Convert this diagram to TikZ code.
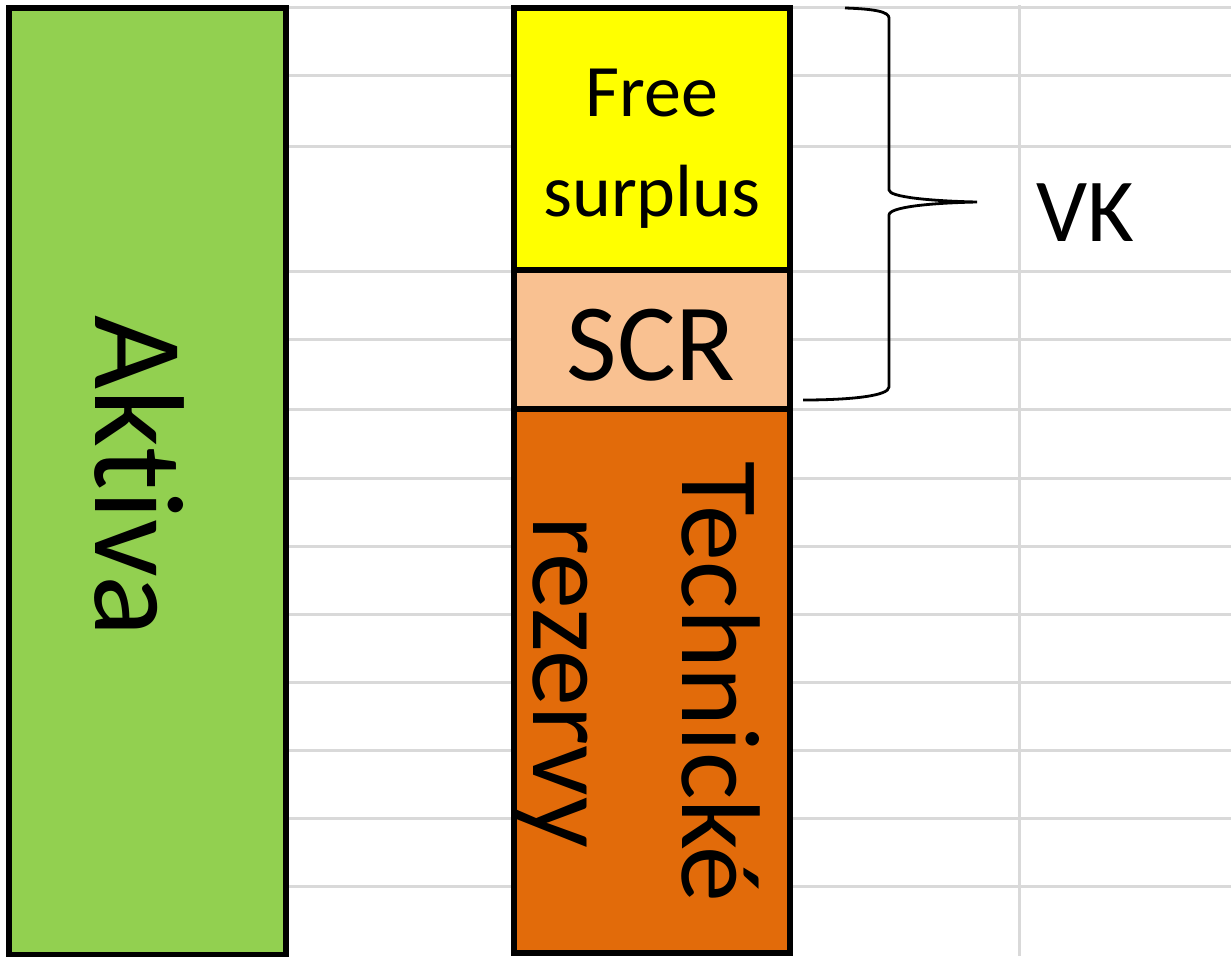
\documentclass[tikz,border=0pt]{standalone}
\usepackage{fontspec}
\setmainfont{Carlito}[Ligatures={NoCommon,NoRare}]
\definecolor{aktgreen}{HTML}{92D050}
\definecolor{freeyellow}{HTML}{FFFF00}
\definecolor{scrpeach}{HTML}{F9C191}
\definecolor{tzorange}{HTML}{E26B0A}
\definecolor{sheetgray}{HTML}{D9D9D9}

\begin{document}
\begin{tikzpicture}[x=1pt, y=-1pt,
    cell/.style={draw=black, line width=6pt, inner sep=0pt, outer sep=0pt, anchor=north west},
    sheetline/.style={draw=sheetgray, line width=3pt},
    lbl/.style={anchor=base, inner sep=0pt, align=center}]
        \useasboundingbox (0,0) rectangle (1231,956);
        % spreadsheet grid behind the blocks
        \foreach \y in {7,75,146,271,339,409,478,546,614,682,750,818,886}
          \draw[sheetline] (288,\y) -- (1231,\y);
        \draw[sheetline] (1019,5) -- (1019,956);
        % balance sheet blocks
        \node[cell, fill=aktgreen, minimum width=277pt, minimum height=947pt] (aktiva) at (9,7.5) {};
        \node[cell, fill=freeyellow, minimum width=275.5pt, minimum height=262pt] (surplus) at (514,7.5) {};
        \node[cell, fill=scrpeach, minimum width=275.5pt, minimum height=139.5pt] (scr) at (514,269.5) {};
        \node[cell, fill=tzorange, minimum width=275.5pt, minimum height=544pt] (tr) at (514,409) {};
        % labels (base = last line)
        \node[lbl, rotate=-90, font=\fontsize{128}{150}\selectfont] (aktivatxt) at (95,476) {Aktiva};
        \node[lbl, font=\fontsize{74}{100}\selectfont] (surplustxt) at (652,216) {Free\\surplus};
        \node[lbl, font=\fontsize{110}{130}\selectfont] (scrtxt) at (651,380) {SCR};
        \node[lbl, rotate=-90, font=\fontsize{112}{149}\selectfont] (trtxt) at (533,682) {Technické\\rezervy};
        % brace over free surplus + SCR
        \coordinate (tip) at (977,202);
        \draw[line width=2.8pt] (845,8) .. controls (876,9) and (889,12) .. (889,18) -- (889,190)
          .. controls (889,197) and (930,201) .. (tip)
          .. controls (930,203) and (889,207) .. (889,215) -- (889,387)
          .. controls (889,396) and (850,400) .. (803,400);
        \node[lbl, font=\fontsize{90}{110}\selectfont] (vk) at (1085,241) {VK};
      \end{tikzpicture}
\end{document}
